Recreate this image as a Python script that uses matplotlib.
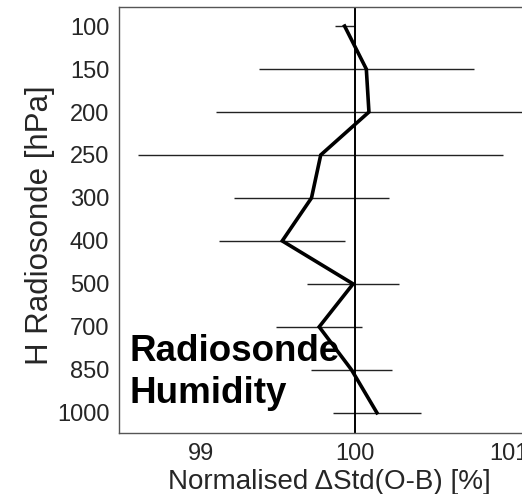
import numpy as np
import matplotlib.pyplot as plt

plt.rcParams['font.family'] = ['Liberation Sans', 'DejaVu Sans']

levels = ['100', '150', '200', '250', '300', '400', '500', '700', '850', '1000']
dstd = [99.935, 100.076, 100.093, 99.78, 99.72, 99.53, 99.99, 99.77, 99.98, 100.145]
err = [0.065, 0.70, 0.995, 1.185, 0.505, 0.41, 0.30, 0.28, 0.26, 0.285]

fig = plt.figure(figsize=(5.22, 4.94), dpi=100)
ax = fig.add_axes([0.228, 0.1235, 0.8065, 0.862])

ypos = np.arange(len(levels))
ax.errorbar(dstd, ypos, xerr=err, fmt='none', ecolor='#222222', elinewidth=1.0, capsize=0)
ax.plot(dstd, ypos, color='black', lw=2.6, solid_joinstyle='miter')
ax.axvline(100, color='black', lw=1.4)

ax.set_xlim(98.47, 101.204)
ax.set_ylim(9.47, -0.44)
ax.set_yticks(ypos)
ax.set_yticklabels(levels)
ax.set_xticks([99, 100, 101])
ax.tick_params(length=0, pad=7, labelsize=17, colors='#262626')
for s in ax.spines.values():
    s.set_color('#555555')
    s.set_linewidth(1.0)

ax.set_xlabel('Normalised ΔStd(O-B) [%]', fontsize=20, color='#262626', labelpad=3)
ax.set_ylabel('H Radiosonde [hPa]', fontsize=22.5, color='#262626', labelpad=1)
ax.yaxis.label.set_y(0.488)

ax.text(98.54, 8.06, 'Radiosonde\nHumidity', fontsize=26.5, fontweight='bold',
        va='center', ha='left', linespacing=1.25)

fig.savefig('out.png', dpi=100)
